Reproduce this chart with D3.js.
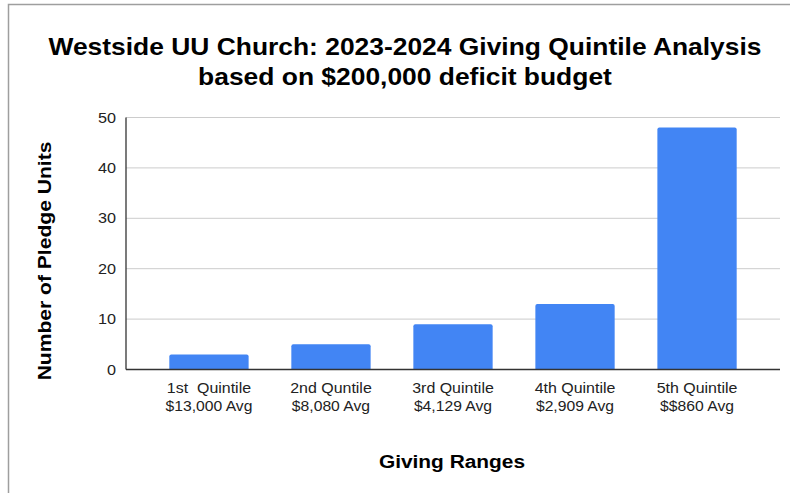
<!DOCTYPE html>
<html><head><meta charset="utf-8">
<script src="https://cdn.jsdelivr.net/npm/d3@7"></script>
<style>body{margin:0;background:#fff}svg{display:block}text{white-space:pre}</style>
</head><body>
<svg id="c" width="790" height="493"></svg>
<script>
const categories = ["1st  Quintile", "2nd Quntile", "3rd Quintile", "4th Quintile", "5th Quintile"];
const subLabels = ["$13,000 Avg", "$8,080 Avg", "$4,129 Avg", "$2,909 Avg", "$$860 Avg"];
const values = [3, 5, 9, 13, 48];
const yTicks = [0, 10, 20, 30, 40, 50];
const titleLines = ["Westside UU Church: 2023-2024 Giving Quintile Analysis", "based on $200,000 deficit budget"];
const xTitle = "Giving Ranges";
const yTitle = "Number of Pledge Units";

const svg = d3.select("#c");
const font = "'Liberation Sans', Arial, sans-serif";
function stretch(sel, f) {
  sel.each(function () {
    const w = this.getComputedTextLength();
    d3.select(this).attr("textLength", w * f).attr("lengthAdjust", "spacingAndGlyphs");
  });
}
// frame
svg.append("path").attr("d", "M8.5,493 V4.5 H790").attr("fill", "none").attr("stroke", "#9e9e9e").attr("stroke-width", 1.5);

const x = d3.scaleBand().domain(categories).range([126, 780]).paddingInner(0.35).paddingOuter(0.355);
const y = d3.scaleLinear().domain([0, 50]).range([369.5, 117.5]);

// grid
svg.append("g").selectAll("line").data(yTicks.filter(d => d > 0)).join("line")
  .attr("x1", 126).attr("x2", 780).attr("y1", d => y(d)).attr("y2", d => y(d))
  .attr("stroke", "#cccccc").attr("stroke-width", 1);

// bars with rounded top corners
const r = 2;
svg.append("g").selectAll("path").data(values).join("path")
  .attr("fill", "#4285f4")
  .attr("d", (d, i) => {
    const x0 = x(categories[i]), w = x.bandwidth(), y0 = y(d), yb = y(0);
    return `M${x0},${yb} V${y0 + r} Q${x0},${y0} ${x0 + r},${y0} H${x0 + w - r} Q${x0 + w},${y0} ${x0 + w},${y0 + r} V${yb} Z`;
  });

// axes lines
svg.append("line").attr("x1", 126).attr("x2", 780).attr("y1", y(0)).attr("y2", y(0)).attr("stroke", "#333").attr("stroke-width", 1.3);
svg.append("line").attr("x1", 126).attr("x2", 126).attr("y1", y(50)).attr("y2", y(0)).attr("stroke", "#333").attr("stroke-width", 1.3);

// y tick labels
const yl = svg.append("g").selectAll("text").data(yTicks).join("text")
  .attr("x", 116).attr("y", d => y(d) + 5).attr("text-anchor", "end")
  .attr("font-family", font).attr("font-size", 15).attr("fill", "#222").text(d => d);
stretch(yl, 1.08);

// x labels
const xl = svg.append("g").selectAll("text").data(categories).join("text")
  .attr("text-anchor", "middle").attr("font-family", font).attr("font-size", 14).attr("fill", "#222");
const t1 = xl.append("tspan").attr("x", d => x(d) + x.bandwidth() / 2).attr("y", 393).text(d => d);
const t2 = xl.append("tspan").attr("x", d => x(d) + x.bandwidth() / 2).attr("y", 411).text((d, i) => subLabels[i]);
stretch(t1, 1.14);
stretch(t2, 1.12);

// title
const tt = svg.append("g").selectAll("text").data(titleLines).join("text")
  .attr("x", 405).attr("y", (d, i) => 55 + i * 30).attr("text-anchor", "middle")
  .attr("font-family", font).attr("font-weight", "bold").attr("font-size", 24).attr("fill", "#000").text(d => d);
stretch(tt, 1.1);

const xt = svg.append("text").attr("x", 452).attr("y", 468).attr("text-anchor", "middle")
  .attr("font-family", font).attr("font-weight", "bold").attr("font-size", 18).attr("fill", "#000").text(xTitle);
stretch(xt, 1.16);

const yt = svg.append("text").attr("transform", "translate(51,261) rotate(-90)").attr("text-anchor", "middle")
  .attr("font-family", font).attr("font-weight", "bold").attr("font-size", 18).attr("fill", "#000").text(yTitle);
stretch(yt, 1.17);
</script>
</body></html>
